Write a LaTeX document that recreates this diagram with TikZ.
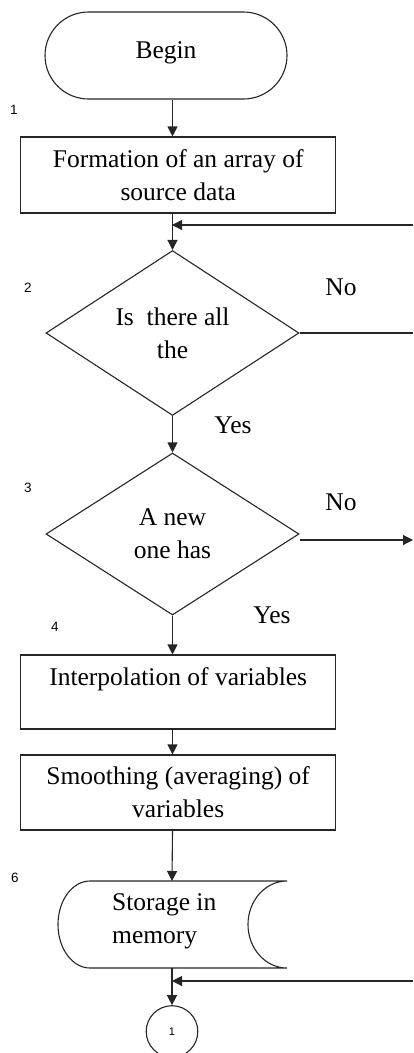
\documentclass[tikz,border=0pt]{standalone}
\usepackage{fontspec}
\setmainfont{Liberation Serif}
\setsansfont{Liberation Sans}
\usetikzlibrary{shapes.misc,shapes.geometric,arrows.meta}
\begin{document}
\begin{tikzpicture}[x=1pt,y=-1pt,
  every node/.style={font=\fontsize{25.5}{33}\selectfont},
  line/.style={draw=black!85,line width=1.1pt},
  arr/.style={line,-{Triangle[length=10pt,width=10pt]}},
  procbox/.style={line,rectangle,minimum width=315pt,inner sep=0pt,align=center},
  decision/.style={line,diamond,minimum width=253pt,minimum height=162pt,inner sep=0pt,align=center},
  numlabel/.style={font=\sffamily\fontsize{13.5}{15}\selectfont},
  answer/.style={font=\fontsize{25.5}{28}\selectfont}]
\useasboundingbox (0,0) rectangle (413,1053);
\fill[white] (0,0) rectangle (413,1053);

% terminator
\node[line,rounded rectangle,minimum width=242pt,minimum height=87pt,inner sep=0pt] (begin) at (166,55.5) {\raisebox{-2.5pt}[0pt][0pt]{Begin}};

% process boxes
\node[procbox,minimum height=76pt] (b1) at (178.2,175) {Formation of an array of\\source data};
\node[decision] (d1) at (172.5,333) {Is\ \ there all\\the};
\node[decision] (d2) at (172.5,534) {A new\\one has};
\node[procbox,minimum height=74pt] (b4) at (178.2,692) {\raisebox{7pt}[0pt][0pt]{Interpolation of variables}};
\node[procbox,minimum height=75pt] (b5) at (178.2,792.5) {Smoothing (averaging) of\\variables};

% storage shape
\coordinate (sttop) at (172,881);
\coordinate (stbot) at (172,968);
\draw[line] (90,881) -- (287,881)
  arc[start angle=90,end angle=270,x radius=39pt,y radius=43.5pt]
  -- (90,968)
  arc[start angle=270,end angle=90,x radius=32pt,y radius=43.5pt] -- cycle;
\node[anchor=west,align=left,inner sep=0pt] (st) at (112,921) {Storage in\\memory};

% connector circle
\node[line,circle,minimum size=51.6pt,inner sep=0pt] (c1) at (172,1031.5) {\sffamily\fontsize{11}{12}\selectfont 1};

% step numbers
\node[numlabel] (n1) at (14,110) {1};
\node[numlabel] (n2) at (28,288) {2};
\node[numlabel] (n3) at (28,488) {3};
\node[numlabel] (n4) at (55,627) {4};
\node[numlabel] (n6) at (15,878) {6};

% answers
\node[answer] (no1) at (341,287) {No};
\node[answer] (yes1) at (233,425) {Yes};
\node[answer] (no2) at (341,502) {No};
\node[answer] (yes2) at (272,615) {Yes};

% main connectors
\draw[arr] (begin.south -| d1.north) -- (b1.north -| d1.north);
\draw[arr] (b1.south -| d1.north) -- (d1.north);
\draw[arr] (d1.south) -- (d2.north);
\draw[arr] (d2.south) -- (b4.north -| d2.south);
\draw[arr] (b4.south -| d2.south) -- (b5.north -| d2.south);
\draw[arr] (b5.south -| d2.south) -- (sttop);
\draw[arr] (stbot) -- (c1.north);

% side branches
\coordinate (r1) at (413,333);
\coordinate (r2) at (413,540);
\coordinate (in1) at (413,225);
\coordinate (in2) at (413,981);
\coordinate (j1) at (172,225);
\coordinate (j2) at (172,981);
\draw[line] (d1.east) -- (r1);
\draw[arr] (d2.east |- r2) -- (r2);
\draw[arr] (in1) -- (j1);
\draw[arr] (in2) -- (j2);
\end{tikzpicture}
\end{document}
